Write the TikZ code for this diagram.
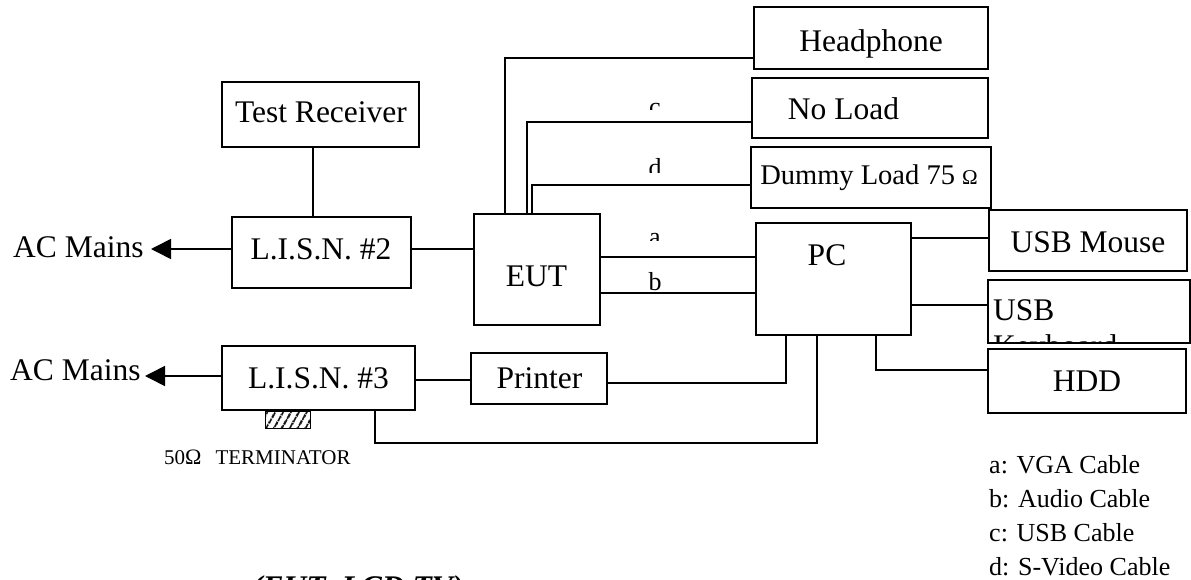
\documentclass[tikz,border=0pt]{standalone}
\usepackage{fontspec}
\setmainfont{Liberation Serif}
\usetikzlibrary{arrows.meta,patterns.meta}
\begin{document}
\begin{tikzpicture}[x=1pt,y=-1pt,
  box/.style={draw,line width=1.8pt,inner sep=0pt},
  wire/.style={line width=1.6pt},
  big/.style={font=\fontsize{31.5}{36}\selectfont,inner sep=0pt,anchor=base},
  lab/.style={font=\fontsize{26}{30}\selectfont,inner sep=0pt,anchor=base},
  leg/.style={font=\fontsize{26}{30}\selectfont,inner sep=0pt,anchor=base west},
  mains/.style={-{Triangle[length=20pt,width=20pt]},line width=1.6pt}]
\fill[white] (0,0) rectangle (1191,580);
\useasboundingbox (0,0) rectangle (1191,580);
\clip (0,0) rectangle (1191,580);

% boxes
\node[box,minimum width=197pt,minimum height=65pt] (tr) at (320.5,114.5) {};
\node[box,minimum width=179pt,minimum height=71pt] (l2) at (321.5,252.5) {};
\node[box,minimum width=126pt,minimum height=111pt] (eut) at (537,269.5) {};
\node[box,minimum width=155pt,minimum height=112pt] (pc) at (833.5,279) {};
\node[box,minimum width=234pt,minimum height=62pt] (hp) at (871,38) {};
\node[box,minimum width=236pt,minimum height=60pt] (nl) at (870,108) {};
\node[box,minimum width=240pt,minimum height=61pt] (dl) at (871,177.5) {};
\node[box,minimum width=198pt,minimum height=61pt] (mo) at (1088,240.5) {};
\node[box,minimum width=202pt,minimum height=63pt] (kb) at (1089,311.5) {};
\node[box,minimum width=198pt,minimum height=64pt] (hdd) at (1087,381) {};
\node[box,minimum width=136pt,minimum height=51pt] (pr) at (539,378.5) {};
\node[box,minimum width=193pt,minimum height=64pt] (l3) at (318.5,378) {};
\node[draw,line width=1pt,inner sep=0pt,minimum width=45pt,minimum height=17pt,
      pattern={Lines[angle=60,distance=6.5pt,line width=2pt]}] (term) at (287.5,419.5) {};

% texts in boxes
\node[big] (trt) at (321,123) {Test Receiver};
\node[big] (l2t) at (321,259) {L.I.S.N. \#2};
\node[big] (eutt) at (536.5,286) {EUT};
\node[big] (pct) at (827,265.5) {PC};
\node[big] (hpt) at (871,52) {Headphone};
\node[big] (nlt) at (843.5,120) {No Load};
\node[inner sep=0pt,anchor=base] (dlt) at (869,185)
  {\fontsize{28.5}{32}\selectfont Dummy Load 75 {\fontsize{21}{24}\selectfont Ω}};
\node[big] (mot) at (1088,252) {USB Mouse};
\begin{scope}
  \clip (kb.north west) rectangle (kb.south east);
  \node[big,anchor=base west] (kbt1) at (993,320) {USB};
  \node[big,anchor=base west] (kbt2) at (993,356) {Keyboard};
\end{scope}
\node[big] (hddt) at (1087,391.5) {HDD};
\node[big] (prt) at (539.5,388) {Printer};
\node[big] (l3t) at (318.5,388) {L.I.S.N. \#3};

% AC mains
\node[big,anchor=base west] (ac1) at (13,257) {AC Mains};
\node[big,anchor=base west] (ac2) at (10,380) {AC Mains};
\coordinate (ac1tip) at (151,249);
\coordinate (ac2tip) at (145,376);

% wires
\draw[wire] (tr.south -| 313,0) -- (l2.north -| 313,0);
\draw[mains] (l2.west |- 0,249) -- (ac1tip);
\draw[wire] (l2.east |- 0,249) -- (eut.west |- 0,249);
\draw[wire] (eut.north -| 505,0) |- (hp.west |- 0,58);
\draw[wire] (eut.north -| 527,0) |- (nl.west |- 0,122);
\draw[wire] (eut.north -| 532,0) |- (dl.west |- 0,185);
\draw[wire] (eut.east |- 0,257) -- (pc.west |- 0,257);
\draw[wire] (eut.east |- 0,293) -- (pc.west |- 0,293);
\draw[wire] (pc.east |- 0,238) -- (mo.west |- 0,238);
\draw[wire] (pc.east |- 0,305) -- (kb.west |- 0,305);
\draw[wire] (pc.south -| 876,0) |- (hdd.west |- 0,370);
\draw[wire] (pc.south -| 786,0) |- (pr.east |- 0,383);
\draw[wire] (pc.south -| 817,0) -- (817,443) -| (l3.south -| 375,0);
\draw[wire] (l3.east |- 0,380) -- (pr.west |- 0,380);
\draw[mains] (l3.west |- 0,376) -- (ac2tip);

% cable labels (partly hidden, as in the original)
\begin{scope}
  \clip (630,80) rectangle (680,110);
  \node[lab] (lc) at (655,116) {c};
\end{scope}
\begin{scope}
  \clip (630,140) rectangle (680,173);
  \node[lab] (ld) at (655,177) {d};
\end{scope}
\begin{scope}
  \clip (630,210) rectangle (680,240);
  \node[lab] (la) at (655,245) {a};
\end{scope}
\node[lab] (lb) at (655,290) {b};

% terminator label
\node[inner sep=0pt,anchor=base west,font=\fontsize{21}{24}\selectfont] (termt) at (164,464)
  {50{\fontsize{22}{24}\selectfont Ω}\hspace{14pt}TERMINATOR};

% legend
\node[leg] (lg1) at (989,473) {a: VGA Cable};
\node[leg] (lg2) at (989,507) {b: Audio Cable};
\node[leg] (lg3) at (989,541) {c: USB Cable};
\node[leg] (lg4) at (989,575) {d: S-Video Cable};

% caption (cut off at the bottom edge, as in the original)
\node[inner sep=0pt,anchor=base west,font=\bfseries\itshape\fontsize{31.5}{36}\selectfont] (cap) at (252,597) {(EUT: LCD TV)};
\end{tikzpicture}
\end{document}
